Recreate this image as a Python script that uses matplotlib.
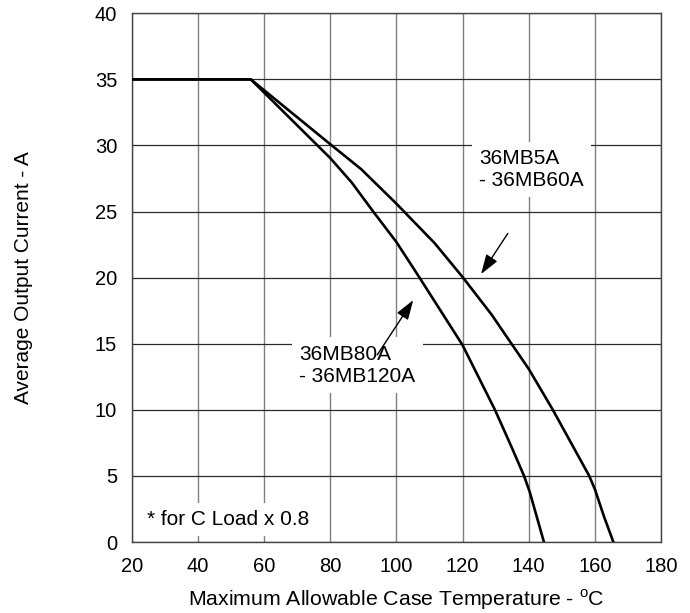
import matplotlib
matplotlib.use('Agg')
import matplotlib.pyplot as plt

plt.rcParams['font.family'] = ['Liberation Sans', 'DejaVu Sans']
plt.rcParams['mathtext.fontset'] = 'custom'
plt.rcParams['mathtext.rm'] = 'Liberation Sans'

# 36MB5A - 36MB60A (upper curve)
temp_a = [20, 56, 80, 89.4, 100, 111.6, 120, 128.8, 134.8, 140, 147.3,
          152.8, 158.3, 160, 162.8, 165.6]
curr_a = [35, 35, 30.1, 28.2, 25.6, 22.6, 20.05, 17.2, 15, 13.1, 10,
          7.5, 5, 4.0, 1.9, 0]

# 36MB80A - 36MB120A (lower curve)
temp_b = [20, 56, 80, 86.5, 93, 100, 107, 120, 124.8, 129.8,
          134.8, 138.6, 140.3, 144.6]
curr_b = [35, 35, 29.05, 27.2, 25, 22.7, 20, 14.9, 12.5, 10,
          7.2, 5, 3.8, 0]

xticks = [20, 40, 60, 80, 100, 120, 140, 160, 180]
yticks = [0, 5, 10, 15, 20, 25, 30, 35, 40]

fig = plt.figure(figsize=(6.9, 6.13), dpi=100)
ax = fig.add_axes([0.1909, 0.1158, 0.7671, 0.8625])

ax.plot(temp_a, curr_a, color='black', lw=1.9, zorder=4)
ax.plot(temp_b, curr_b, color='black', lw=1.9, zorder=4)

ax.set_xlim(20, 180)
ax.set_ylim(0, 40)
ax.set_xticks(xticks)
ax.set_yticks(yticks)
ax.xaxis.grid(True, color='#808080', lw=1.0)
ax.yaxis.grid(True, color='#2a2a2a', lw=0.9)
ax.tick_params(axis='both', length=0, labelsize=14.5)
ax.tick_params(axis='x', pad=11)
ax.tick_params(axis='y', pad=10.5)
for s in ax.spines.values():
    s.set_color('#444444')
    s.set_linewidth(1.0)

ax.set_xlabel(r'Maximum Allowable Case Temperature - $^{\mathrm{o}}$C', fontsize=15.3)
ax.xaxis.set_label_coords(0.5, -0.085)
ax.set_ylabel('Average Output Current - A', fontsize=15)
ax.yaxis.set_label_coords(-0.186, 0.5)

box = dict(boxstyle='square,pad=0.35', facecolor='white', edgecolor='none')
ax.text(125.0, 26.93, '36MB5A\n- 36MB60A', fontsize=15, va='baseline',
        ha='left', bbox=box, zorder=5)
ax.text(70.7, 12.13, '36MB80A\n- 36MB120A', fontsize=15, va='baseline',
        ha='left', bbox=box, zorder=5)
ax.text(24.6, 1.29, '* for C Load x 0.8', fontsize=15, va='baseline',
        ha='left', bbox=box, zorder=5)

arrow = dict(arrowstyle='-|>,head_length=0.6,head_width=0.2', color='black',
             lw=1.0, shrinkA=0, shrinkB=0, mutation_scale=20)
ax.annotate('', xy=(125.6, 20.27), xytext=(133.7, 23.35), arrowprops=arrow, zorder=6)
ax.annotate('', xy=(105.1, 18.3), xytext=(94.2, 14.15), arrowprops=arrow, zorder=6)

fig.savefig('out.png', dpi=100)
